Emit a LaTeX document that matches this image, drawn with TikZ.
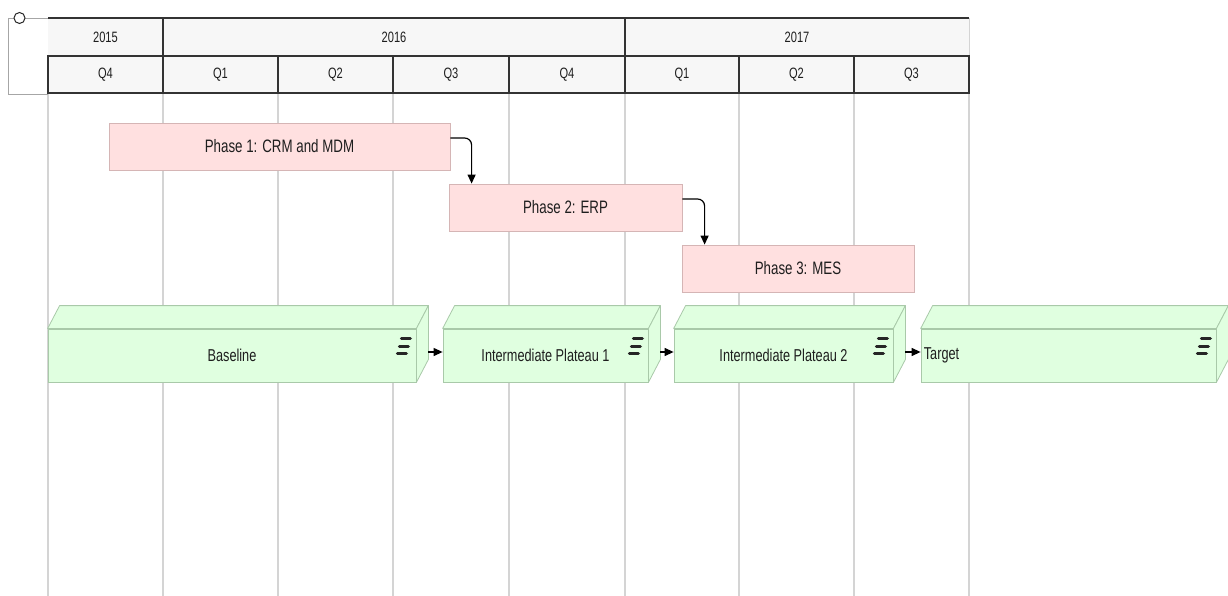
\documentclass[tikz,border=0pt]{standalone}
\usepackage{fontspec}
\setmainfont[FakeStretch=0.74]{Liberation Sans}
\usetikzlibrary{arrows.meta,calc}
\definecolor{hdrline}{HTML}{333333}
\definecolor{hdrfill}{HTML}{F7F7F7}
\definecolor{gridc}{HTML}{D4D4D4}
\definecolor{phasefill}{HTML}{FFE0E0}
\definecolor{phaseborder}{HTML}{D5B5B5}
\definecolor{platfill}{HTML}{E0FFE0}
\definecolor{platborder}{HTML}{A9C9A9}
\definecolor{txt}{HTML}{1E1E1E}
\tikzset{
  hdrtext/.style={font=\fontsize{15}{16}\selectfont, text=txt},
  yearcell/.style={hdrtext, fill=hdrfill, minimum height=38, inner sep=0},
  qcell/.style={hdrtext, fill=hdrfill, draw=hdrline, line width=2.5pt, minimum height=37, inner sep=0},
  thickhdr/.style={draw=hdrline, line width=2.5pt},
  gridline/.style={draw=gridc, line width=1.3pt},
  framel/.style={draw=gray!70, line width=0.8pt},
  phasebox/.style={draw=phaseborder, fill=phasefill, line width=0.8pt, minimum height=47, inner sep=0,
    font=\fontsize{18}{19}\selectfont, text=txt},
  platfront/.style={draw=platborder, fill=platfill, line width=0.8pt, minimum height=53, inner sep=0,
    font=\fontsize{17.2}{18}\selectfont, text=txt},
  platface/.style={draw=platborder, fill=platfill, line width=0.8pt, line join=round},
  plicon/.style={draw=black!85, line width=3.2pt, line cap=round},
  conn/.style={draw=black, line width=1.2pt, -{Triangle[length=9pt,width=8pt]}},
}
\newcommand{\platfaces}[1]{%
  \path[platface] (#1.north west) -- ([shift={(12,-23)}]#1.north west) -- ([shift={(12,-23)}]#1.north east) -- (#1.north east) -- cycle;
  \path[platface] (#1.north east) -- ([shift={(12,-23)}]#1.north east) -- ([shift={(12,-23)}]#1.south east) -- (#1.south east) -- cycle;
  \draw[plicon] ([shift={(-15,10)}]#1.north east) -- ++(9,0);
  \draw[plicon] ([shift={(-17,17.5)}]#1.north east) -- ++(9,0);
  \draw[plicon] ([shift={(-19,25)}]#1.north east) -- ++(9,0);
}
\begin{document}
\begin{tikzpicture}[x=1pt,y=-1pt]
\useasboundingbox[fill=white] (0,0) rectangle (1228,596);
% grid
\foreach \x in {48,163,278,393,509,625,739,854,969}
  \draw[gridline] (\x,93) -- (\x,596);
% left frame
\draw[framel] (8,18) -- (14,18);
\draw[framel] (8,18) -- (8,94) -- (48,94);
\draw[framel] (25,18) -- (48,18);
\node[circle, draw=black!85, fill=white, line width=1pt, minimum size=11, inner sep=0] (origin) at (19.5,18) {};
% year row
\node[yearcell, minimum width=115] (y2015) at (105.5,37) {2015};
\node[yearcell, minimum width=462] (y2016) at (394,37) {2016};
\node[yearcell, minimum width=344] (y2017) at (797,37) {2017};
\draw[gridline, line width=1pt] (969,18) -- (969,56);
\draw[thickhdr] (48,18) -- (969,18);
\draw[thickhdr] (163,18) -- (163,56);
\draw[thickhdr] (625,18) -- (625,56);
% quarter row
\node[qcell, minimum width=115] (q1) at (105.5,74.5) {Q4};
\node[qcell, minimum width=115] (q2) at (220.5,74.5) {Q1};
\node[qcell, minimum width=115] (q3) at (335.5,74.5) {Q2};
\node[qcell, minimum width=116] (q4) at (451,74.5) {Q3};
\node[qcell, minimum width=116] (q5) at (567,74.5) {Q4};
\node[qcell, minimum width=114] (q6) at (682,74.5) {Q1};
\node[qcell, minimum width=115] (q7) at (796.5,74.5) {Q2};
\node[qcell, minimum width=115] (q8) at (911.5,74.5) {Q3};
% phases
\node[phasebox, minimum width=341] (p1) at (279.5,146.5) {Phase 1: CRM and MDM};
\node[phasebox, minimum width=233] (p2) at (565.5,207.5) {Phase 2: ERP};
\node[phasebox, minimum width=232] (p3) at (798,268.5) {Phase 3: MES};
\draw[conn, rounded corners=7pt] ([yshift=8.5]p1.east) -| ([xshift=23]p2.north west);
\draw[conn, rounded corners=7pt] ([yshift=8.5]p2.east) -| ([xshift=23]p3.north west);
% plateaus
\node[platfront, minimum width=368] (base) at (232,355.5) {Baseline};
\node[platfront, minimum width=205] (ip1) at (545.5,355.5) {Intermediate Plateau 1};
\node[platfront, minimum width=219] (ip2) at (783.5,355.5) {Intermediate Plateau 2};
\node[platfront, minimum width=295] (tgt) at (1068.5,355.5) {};
\node[anchor=west, inner sep=3pt, font=\fontsize{17.2}{18}\selectfont, text=txt] (tgtlabel) at (tgt.west) {Target};
\platfaces{base}
\platfaces{ip1}
\platfaces{ip2}
\platfaces{tgt}
\draw[conn] ([shift={(12,-3.5)}]base.east) -- ([yshift=3.5]ip1.west);
\draw[conn] ([shift={(12,-3.5)}]ip1.east) -- ([yshift=3.5]ip2.west);
\draw[conn] ([shift={(12,-3.5)}]ip2.east) -- ([yshift=3.5]tgt.west);
\end{tikzpicture}
\end{document}
